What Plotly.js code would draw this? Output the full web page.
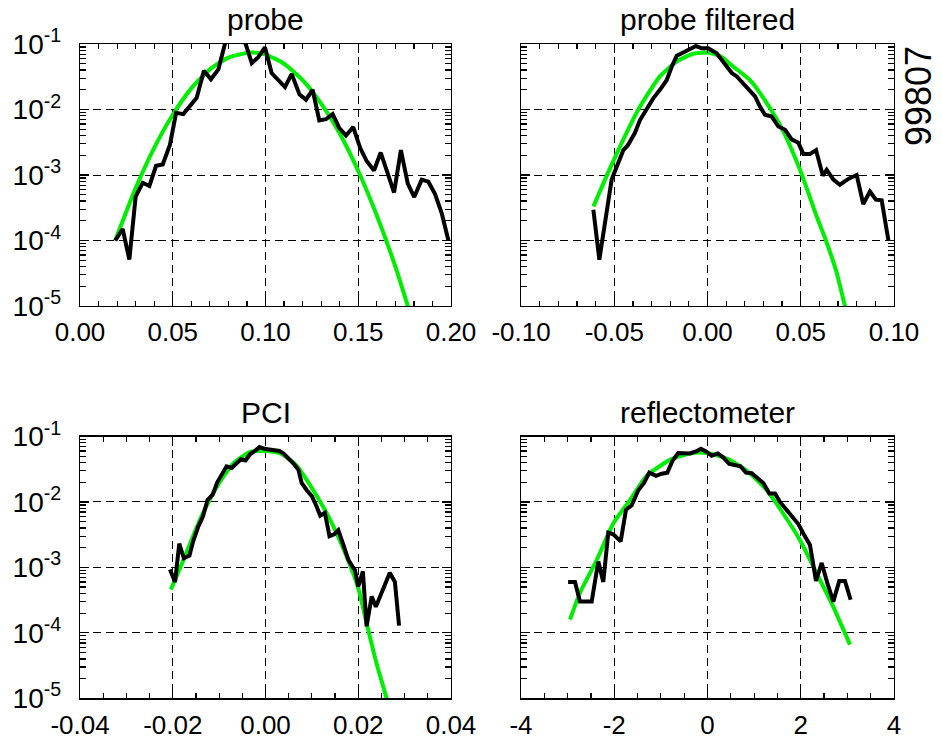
<!DOCTYPE html>
<html><head><meta charset="utf-8">
<script src="https://cdn.plot.ly/plotly-3.0.1.min.js"></script>
<style>html,body{margin:0;padding:0;background:#fff}</style>
</head><body><div id="chart" style="width:942px;height:740px"></div>
<script>
// ---------- data ----------
const panelTitles = ['probe', 'probe filtered', 'PCI', 'reflectometer'];
const shotLabel = '99807';

// probe
const probeX = [0.019,0.023,0.0266,0.030,0.0338,0.0374,0.041,0.0446,0.0485,0.0518,0.0557,0.0593,0.0629,0.0668,0.0706,0.0746,0.0782,0.082,0.086,0.0893,0.0926,0.0961,0.0997,0.1033,0.107,0.1105,0.1141,0.1183,0.1218,0.1254,0.129,0.1326,0.1362,0.1398,0.1434,0.1473,0.151,0.1546,0.1585,0.1621,0.1657,0.1693,0.173,0.1767,0.1802,0.1842,0.1878,0.1914,0.195,0.1986];
const probeY = [1.0e-4,1.5e-4,5.1e-5,4.7e-4,7.6e-4,6.8e-4,1.38e-3,1.45e-3,2.9e-3,8.9e-3,8.5e-3,1.12e-2,1.51e-2,3.9e-2,2.9e-2,4.1e-2,0.102,0.13,0.13,0.10,5.1e-2,6.3e-2,8.9e-2,3.6e-2,2.8e-2,2.2e-2,3.5e-2,1.7e-2,1.41e-2,2.0e-2,6.8e-3,7.1e-3,8.5e-3,5.2e-3,4.0e-3,5.4e-3,2.6e-3,1.62e-3,1.17e-3,2.2e-3,1.10e-3,5.4e-4,2.4e-3,7.4e-4,4.6e-4,8.5e-4,7.9e-4,5.1e-4,2.6e-4,1.0e-4];
const probeFitX = [0.019,0.03,0.04,0.05,0.06,0.07,0.08,0.092,0.10,0.11,0.12,0.13,0.14,0.15,0.16,0.17,0.18];
const probeFitY = [1.0e-4,6.3e-4,2.6e-3,8.3e-3,2.1e-2,4.1e-2,6.2e-2,7.4e-2,6.9e-2,5.0e-2,2.8e-2,1.23e-2,4.3e-3,1.15e-3,2.4e-4,4.0e-5,5.0e-6];

// probe filtered
const filtX = [-0.0612,-0.0580,-0.0514,-0.0487,-0.0451,-0.0425,-0.0389,-0.0362,-0.0326,-0.0291,-0.0255,-0.0219,-0.0192,-0.0165,-0.0130,-0.0094,-0.0062,-0.0031,0.0004,0.0049,0.0085,0.0130,0.0157,0.0192,0.0228,0.0255,0.0282,0.0308,0.0344,0.0380,0.0416,0.0451,0.0487,0.0514,0.0550,0.0582,0.0618,0.0639,0.0675,0.0710,0.0755,0.0800,0.0835,0.0871,0.0903,0.0934,0.0970];
const filtY = [2.95e-4,5.1e-5,8.5e-4,1.35e-3,2.4e-3,2.9e-3,4.4e-3,6.9e-3,1.05e-2,1.48e-2,2.0e-2,2.8e-2,4.5e-2,6.6e-2,7.4e-2,8.3e-2,9.3e-2,8.6e-2,8.6e-2,7.2e-2,5.4e-2,3.6e-2,3.2e-2,2.5e-2,1.86e-2,1.58e-2,1.10e-2,8.3e-3,7.8e-3,5.5e-3,4.9e-3,3.5e-3,3.1e-3,2.1e-3,2.1e-3,2.4e-3,9.8e-4,1.20e-3,8.5e-4,7.1e-4,8.7e-4,1.0e-3,3.6e-4,5.6e-4,4.2e-4,4.1e-4,1.0e-4];
const filtFitX = [-0.0612,-0.054,-0.0451,-0.0371,-0.0255,-0.0165,-0.0076,0.0,0.007,0.0139,0.0228,0.0317,0.0407,0.0496,0.0586,0.0635,0.0693,0.0737,0.078];
const filtFitY = [3.3e-4,9.8e-4,3.5e-3,1.0e-2,3.2e-2,5.4e-2,7.1e-2,7.4e-2,6.5e-2,4.5e-2,2.8e-2,1.26e-2,4.6e-3,1.20e-3,2.3e-4,1.0e-4,3.2e-5,1.0e-5,4.0e-6];

// PCI
const pciX = [-0.0206,-0.0195,-0.0186,-0.0176,-0.0164,-0.0156,-0.0145,-0.0135,-0.0125,-0.0114,-0.0104,-0.0094,-0.0084,-0.0073,-0.0062,-0.0053,-0.0043,-0.0033,-0.0023,-0.0013,-0.0003,0.0008,0.0019,0.0030,0.0039,0.0050,0.0060,0.0071,0.0078,0.0089,0.0100,0.0109,0.0118,0.0128,0.0138,0.0148,0.0157,0.0168,0.0179,0.0188,0.0193,0.0200,0.0210,0.0218,0.0229,0.0238,0.0250,0.0268,0.0279,0.0288];
const pciY = [9.3e-4,6.0e-4,2.3e-3,1.38e-3,1.51e-3,2.5e-3,4.2e-3,6.0e-3,1.07e-2,1.29e-2,2.0e-2,2.6e-2,3.5e-2,3.3e-2,3.9e-2,4.5e-2,4.3e-2,5.4e-2,6.0e-2,6.9e-2,6.5e-2,6.3e-2,6.0e-2,6.0e-2,5.5e-2,4.7e-2,3.9e-2,3.1e-2,1.95e-2,1.51e-2,1.23e-2,8.9e-3,6.2e-3,6.8e-3,3.0e-3,3.2e-3,3.7e-3,2.2e-3,1.29e-3,1.02e-3,9.1e-4,5.1e-4,8.7e-4,1.26e-4,3.6e-4,2.5e-4,4.1e-4,8.3e-4,6.0e-4,1.29e-4];
const pciFitX = [-0.0204,-0.0177,-0.0141,-0.0105,-0.0069,-0.0033,-0.0005,0.0032,0.0067,0.0103,0.0139,0.0175,0.0200,0.0218,0.0239,0.0261,0.0275];
const pciFitY = [4.6e-4,1.29e-3,5.4e-3,1.70e-2,3.9e-2,5.8e-2,6.0e-2,5.5e-2,3.6e-2,1.51e-2,5.4e-3,1.45e-3,4.8e-4,1.41e-4,3.5e-5,1.0e-5,4.0e-6];

// reflectometer
const reflX = [-2.99,-2.842,-2.735,-2.484,-2.342,-2.235,-2.128,-2.021,-1.862,-1.748,-1.626,-1.484,-1.362,-1.248,-1.104,-0.983,-0.862,-0.747,-0.627,-0.483,-0.376,-0.247,-0.140,-0.033,0.090,0.218,0.338,0.467,0.590,0.711,0.825,0.948,1.076,1.197,1.326,1.448,1.555,1.684,1.806,1.948,2.055,2.198,2.327,2.449,2.569,2.698,2.826,2.948,3.070];
const reflY = [6.0e-4,6.0e-4,3.0e-4,3.0e-4,1.23e-3,6.0e-4,3.4e-3,3.2e-3,2.5e-3,7.6e-3,8.9e-3,1.51e-2,1.95e-2,2.8e-2,2.5e-2,2.7e-2,2.8e-2,4.3e-2,5.6e-2,5.5e-2,5.5e-2,5.9e-2,6.5e-2,5.9e-2,5.1e-2,5.5e-2,4.8e-2,3.8e-2,3.6e-2,3.5e-2,2.8e-2,2.75e-2,2.3e-2,1.95e-2,1.35e-2,1.35e-2,1.0e-2,7.8e-3,6.0e-3,4.6e-3,3.3e-3,2.2e-3,6.2e-4,1.17e-3,5.8e-4,3.0e-4,6.2e-4,6.2e-4,3.2e-4];
const reflFitX = [-2.949,-2.735,-2.377,-2.021,-1.663,-1.304,-0.805,-0.376,-0.017,0.412,0.841,1.270,1.627,1.984,2.342,2.698,3.056];
const reflFitY = [1.6e-4,4.1e-4,1.29e-3,4.7e-3,1.07e-2,2.5e-2,4.4e-2,5.5e-2,5.6e-2,4.6e-2,3.0e-2,1.51e-2,6.6e-3,2.6e-3,8.1e-4,2.5e-4,6.6e-5];

// ticks
const yTickVals = [1e-5, 1e-4, 1e-3, 1e-2, 1e-1];
const yTickText = ['10<sup>-5</sup>','10<sup>-4</sup>','10<sup>-3</sup>','10<sup>-2</sup>','10<sup>-1</sup>'];
const yMinorDigits = [2, 3, 4, 5, 6, 7, 8, 9];
const xTickVals1 = [0, 0.05, 0.10, 0.15, 0.20];
const xTickText1 = ['0.00','0.05','0.10','0.15','0.20'];
const xTickVals2 = [-0.10, -0.05, 0, 0.05, 0.10];
const xTickText2 = ['-0.10','-0.05','0.00','0.05','0.10'];
const xTickVals3 = [-0.04, -0.02, 0, 0.02, 0.04];
const xTickText3 = ['-0.04','-0.02','0.00','0.02','0.04'];
const xTickVals4 = [-4, -2, 0, 2, 4];
const xTickText4 = ['-4','-2','0','2','4'];

// minor tick positions (between labelled ticks)
const yMinorVals = [];
yTickVals.slice(0, -1).forEach(v => yMinorDigits.forEach(d => yMinorVals.push(v * d)));
function minorBetween(vals, n) {
  const out = [];
  for (let i = 0; i < vals.length - 1; i++) {
    const step = (vals[i + 1] - vals[i]) / n;
    for (let k = 1; k < n; k++) out.push(vals[i] + k * step);
  }
  return out;
}

// ---------- styling ----------
const FONT = 'Liberation Sans, Arial, Helvetica, sans-serif';
const GREEN = '#00ee00';
const dataLine = {color: 'black', width: 4};
const fitLine = {color: GREEN, width: 4, shape: 'spline', smoothing: 0.6};

function pair(xf, yf, xd, yd, xa, ya) {
  return [
    {x: xf, y: yf, xaxis: xa, yaxis: ya, type: 'scatter', mode: 'lines', line: fitLine, hoverinfo: 'skip'},
    {x: xd, y: yd, xaxis: xa, yaxis: ya, type: 'scatter', mode: 'lines', line: dataLine, hoverinfo: 'skip'}
  ];
}

const traces = [].concat(
  pair(probeFitX, probeFitY, probeX, probeY, 'x', 'y'),
  pair(filtFitX, filtFitY, filtX, filtY, 'x2', 'y2'),
  pair(pciFitX, pciFitY, pciX, pciY, 'x3', 'y3'),
  pair(reflFitX, reflFitY, reflX, reflY, 'x4', 'y4')
);

function xAxis(domain, range, vals, text, nMinor, anchor) {
  return {
    domain: domain, range: range, anchor: anchor,
    tickmode: 'array', tickvals: vals, ticktext: text,
    ticks: 'inside', ticklen: 9, tickwidth: 1.2, tickcolor: 'black',
    minor: {tickmode: 'array', tickvals: minorBetween(vals, nMinor), ticks: 'inside', ticklen: 5, tickwidth: 1.2, tickcolor: 'black', showgrid: false},
    showline: true, linecolor: 'black', linewidth: 1.2, mirror: 'ticks',
    showgrid: true, gridcolor: 'black', gridwidth: 1, griddash: '8px,5px',
    zeroline: false, ticklabelstandoff: 3,
    tickfont: {family: FONT, size: 26, color: 'black'}
  };
}
function yAxis(domain, showLabels, anchor) {
  return {
    domain: domain, type: 'log', range: [-5, -1], anchor: anchor,
    tickmode: 'array', tickvals: yTickVals, ticktext: yTickText, showticklabels: showLabels,
    ticks: 'inside', ticklen: 9, tickwidth: 1.2, tickcolor: 'black',
    minor: {tickmode: 'array', tickvals: yMinorVals, ticks: 'inside', ticklen: 6, tickwidth: 1.2, tickcolor: 'black', showgrid: false},
    showline: true, linecolor: 'black', linewidth: 1.2, mirror: 'ticks',
    showgrid: true, gridcolor: 'black', gridwidth: 1, griddash: '8px,5px',
    zeroline: false, ticklabelstandoff: 12,
    tickfont: {family: FONT, size: 28, color: 'black'}
  };
}

const W = 942, H = 740;
const leftDom = [80 / W, 451 / W];
const rightDom = [521 / W, 894 / W];
const topDom = [1 - 306 / H, 1 - 44 / H];
const botDom = [1 - 698.3 / H, 1 - 436.5 / H];

const titleAnn = (i, xr, yr) => ({
  text: panelTitles[i], xref: xr + ' domain', yref: yr + ' domain', x: 0.5, y: 1,
  xanchor: 'center', yanchor: 'bottom', yshift: 6, showarrow: false,
  font: {family: FONT, size: 30, color: 'black'}
});

const layout = {
  width: W, height: H, autosize: false,
  margin: {l: 0, r: 0, t: 0, b: 0},
  paper_bgcolor: 'white', plot_bgcolor: 'white',
  showlegend: false,
  font: {family: FONT, color: 'black'},
  xaxis: xAxis(leftDom, [0, 0.2], xTickVals1, xTickText1, 5, 'y'),
  yaxis: yAxis(topDom, true, 'x'),
  xaxis2: xAxis(rightDom, [-0.1, 0.1], xTickVals2, xTickText2, 5, 'y2'),
  yaxis2: yAxis(topDom, false, 'x2'),
  xaxis3: xAxis(leftDom, [-0.04, 0.04], xTickVals3, xTickText3, 4, 'y3'),
  yaxis3: yAxis(botDom, true, 'x3'),
  xaxis4: xAxis(rightDom, [-4, 4], xTickVals4, xTickText4, 4, 'y4'),
  yaxis4: yAxis(botDom, false, 'x4'),
  annotations: [
    titleAnn(0, 'x', 'y'), titleAnn(1, 'x2', 'y2'), titleAnn(2, 'x3', 'y3'), titleAnn(3, 'x4', 'y4'),
    {text: shotLabel, xref: 'paper', yref: 'paper', x: 918 / W, y: 1 - 96 / H, textangle: -90,
     showarrow: false, xanchor: 'center', yanchor: 'middle',
     font: {family: FONT, size: 36, color: 'black'}}
  ]
};

Plotly.newPlot('chart', traces, layout, {displayModeBar: false, staticPlot: true});
</script>
</body></html>
